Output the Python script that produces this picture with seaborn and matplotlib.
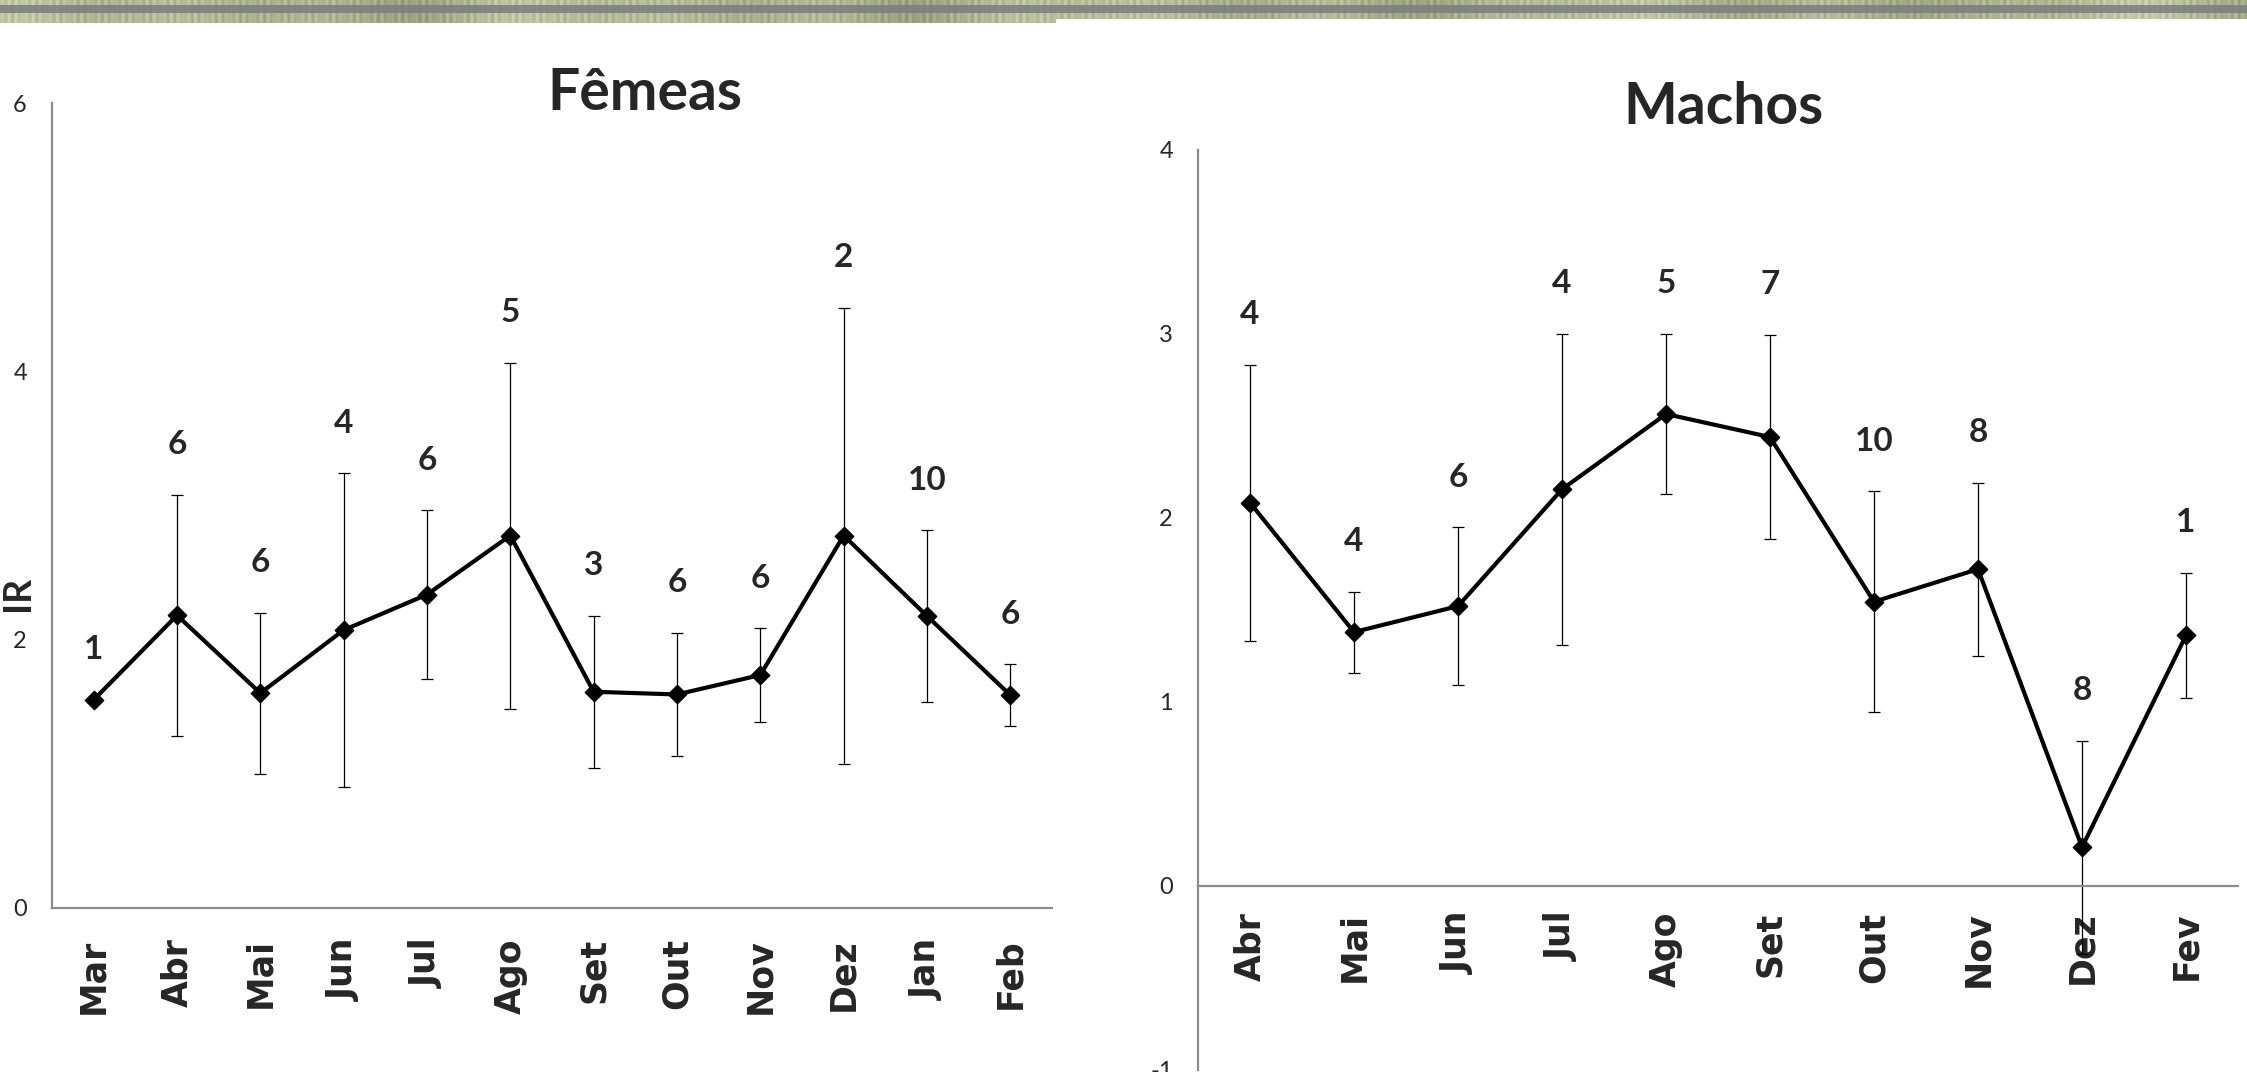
import numpy as np
import pandas as pd
import matplotlib
matplotlib.use("Agg")
import matplotlib.pyplot as plt
import seaborn as sns

# Índice de repleção (IR) mensal: média, desvio padrão e número de exemplares
femeas_meses = ["Mar", "Abr", "Mai", "Jun", "Jul", "Ago", "Set", "Out", "Nov", "Dez", "Jan", "Feb"]
femeas_ir = [1.55, 2.18, 1.60, 2.07, 2.335, 2.775, 1.61, 1.59, 1.735, 2.775, 2.175, 1.585]
femeas_dp = [0.0, 0.90, 0.60, 1.17, 0.63, 1.29, 0.565, 0.46, 0.35, 1.70, 0.64, 0.23]
femeas_n = [1, 6, 6, 4, 6, 5, 3, 6, 6, 2, 10, 6]

machos_meses = ["Abr", "Mai", "Jun", "Jul", "Ago", "Set", "Out", "Nov", "Dez", "Fev"]
machos_ir = [2.083, 1.38, 1.521, 2.156, 2.565, 2.44, 1.545, 1.722, 0.211, 1.362]
machos_dp = [0.75, 0.22, 0.43, 0.844, 0.435, 0.555, 0.60, 0.47, 0.578, 0.34]
machos_n = [4, 4, 6, 4, 5, 7, 10, 8, 8, 1]

sns.set_style("white")
plt.rcParams["font.family"] = ["Lato", "DejaVu Sans"]

W, H = 2247, 1072
fig = plt.figure(figsize=(W / 100, H / 100), dpi=100)
fig.patch.set_facecolor("white")

AXIS_GREY = "#8c8c8c"


def faixa_decorativa(fig):
    """Faixa texturizada no topo da página."""
    rows, cols = 23, W
    c = np.arange(cols)
    s = (0.45 * np.sin(c * 0.91) * np.sin(c * 0.137)
         + 0.35 * np.sin(c * 0.031 + 1.3) * np.cos(c * 0.0071)
         + 0.25 * np.sin(c * 0.0123 + 0.4))
    base = np.array([0.69, 0.715, 0.575])
    tex = np.clip(base[None, :] + 0.14 * s[:, None], 0, 1)
    img = np.ones((rows, cols, 3))
    img[0:5] = tex[None]
    img[5:13] = np.clip(0.52 + 0.02 * s[:, None], 0, 1)[None].repeat(3, axis=2)
    img[13:19] = tex[None]
    img[19:23, :1056] = tex[None, :1056]
    axb = fig.add_axes([0, 1 - rows / H, 1, rows / H])
    axb.imshow(img, aspect="auto", interpolation="nearest")
    axb.set_axis_off()


def painel(ax, meses, ir, dp, n, ylim, yticks, titulo, tpos, xpad, ylabel=None):
    pos = np.arange(len(meses))
    df = pd.DataFrame({"pos": pos, "ir": ir})

    ax.errorbar(pos, ir, yerr=dp, fmt="none", ecolor="black", elinewidth=0.9,
                capsize=4.3, capthick=0.9, zorder=2)
    sns.lineplot(data=df, x="pos", y="ir", sort=False, color="black", lw=3.0,
                 marker=(4, 0, 0), markersize=13.5, markeredgewidth=0.8,
                 markerfacecolor="black", markeredgecolor="black", ax=ax, zorder=3)

    ax.set_xlim(-0.5, len(meses) - 0.5)
    ax.set_ylim(*ylim)
    ax.set_xlabel("")
    ax.set_ylabel("")

    for s in ("top", "right"):
        ax.spines[s].set_visible(False)
    for s in ("left", "bottom"):
        ax.spines[s].set_color(AXIS_GREY)
        ax.spines[s].set_linewidth(1.6)
    ax.spines["bottom"].set_position(("data", 0))

    ax.set_yticks(yticks)
    ax.set_yticklabels([str(v) for v in yticks])
    ax.tick_params(axis="y", direction="out", length=6, width=1.4, color=AXIS_GREY,
                   labelsize=17, pad=12)

    ax.set_xticks(pos)
    ax.set_xticklabels(meses, rotation=90, fontfamily="DejaVu Sans",
                       fontweight="bold", fontsize=25)
    ax.tick_params(axis="x", which="major", length=0, pad=xpad)
    ax.set_xticks(np.arange(-0.5, len(meses)), minor=True)
    ax.tick_params(axis="x", which="minor", direction="out", length=10, width=1.4,
                   color=AXIS_GREY)

    # número de exemplares acima de cada barra de erro
    for i, (m, d, k) in enumerate(zip(ir, dp, n)):
        ax.annotate(str(k), xy=(i, m + d), xytext=(0, 36), textcoords="offset points",
                    ha="center", va="center", fontsize=24, fontweight="bold")

    ax.text(tpos[0], tpos[1], titulo, transform=ax.transAxes, ha="center",
            va="baseline", fontsize=41, fontweight="bold")

    if ylabel:
        ax.text(-0.0345, 0.391, ylabel, transform=ax.transAxes, rotation=90,
                ha="center", va="center", fontsize=27, fontweight="bold")


faixa_decorativa(fig)

ax1 = fig.add_axes([52 / W, (H - 907.7) / H, 1000 / W, 804.7 / H])
painel(ax1, femeas_meses, femeas_ir, femeas_dp, femeas_n, (0, 6), [0, 2, 4, 6],
       "Fêmeas", (0.593, 0.991), xpad=22, ylabel="IR")

ax2 = fig.add_axes([1198 / W, (H - 1070) / H, 1040 / W, 920 / H])
painel(ax2, machos_meses, machos_ir, machos_dp, machos_n, (-1, 4), [-1, 0, 1, 2, 3, 4],
       "Machos", (0.505, 1.028), xpad=18.5)

fig.savefig("out.png", dpi=100, facecolor="white")
